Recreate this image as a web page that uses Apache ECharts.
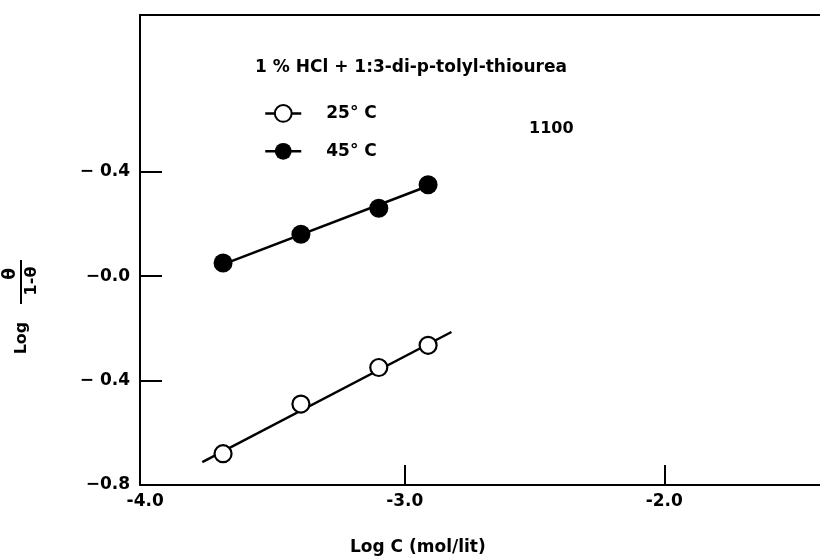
<!DOCTYPE html>
<html>
<head>
<meta charset="utf-8">
<script src="https://cdn.jsdelivr.net/npm/echarts@6/dist/echarts.min.js"></script>
<style>
  html, body { margin: 0; background: #fff; }
  #chart { width: 820px; height: 557px; }
</style>
</head>
<body>
<div id="chart"></div>
<script>
// Log C values of the measured points (shared by both temperatures)
const logC = [-3.70, -3.40, -3.10, -2.91];
// Log theta/(1-theta)
const theta25 = [-0.68, -0.49, -0.35, -0.265];
const theta45 = [0.05, 0.16, 0.26, 0.35];
// drawn straight lines, end points
const fit25 = [[-3.78, -0.712], [-2.82, -0.214]];
const fit45 = [[-3.70, 0.045], [-2.91, 0.345]];

const xTicks = [-4, -3, -2];
const xTickLabels = ['-4.0', '-3.0', '-2.0'];
const yTicks = [-0.8, -0.4, 0, 0.4];
const yTickLabels = ['\u22120.8', '\u2212 0.4', '\u22120.0', '\u2212 0.4'];

const font = 'DejaVu Sans';

function pickLabel(ticks, labels, v) {
  let i = ticks.findIndex(t => Math.abs(t - v) < 1e-6);
  return i < 0 ? '' : labels[i];
}

let chart = echarts.init(document.getElementById('chart'));

let options = {
  backgroundColor: '#fff',
  animation: false,
  grid: { left: 140, right: -6, top: 15, bottom: 72 },
  xAxis: [{
    type: 'value',
    min: -4.02,
    max: -1.40,
    splitLine: { show: false },
    axisLine: { onZero: false, lineStyle: { color: '#000', width: 2 } },
    axisTick: { inside: true, length: 20, customValues: [-3, -2], lineStyle: { color: '#000', width: 2 } },
    axisLabel: {
      customValues: xTicks,
      margin: 8,
      color: '#000',
      fontFamily: font,
      fontWeight: 'bold',
      fontSize: 17,
      formatter: v => pickLabel(xTicks, xTickLabels, v)
    }
  }, {
    // top frame line only
    type: 'value',
    position: 'top',
    min: -4.02,
    max: -1.40,
    splitLine: { show: false },
    axisLine: { onZero: false, lineStyle: { color: '#000', width: 2 } },
    axisTick: { show: false },
    axisLabel: { show: false }
  }],
  yAxis: {
    type: 'value',
    min: -0.8,
    max: 1.0,
    splitLine: { show: false },
    axisLine: { onZero: false, lineStyle: { color: '#000', width: 2 } },
    axisTick: { inside: true, length: 22, customValues: yTicks, lineStyle: { color: '#000', width: 2 } },
    axisLabel: {
      customValues: yTicks,
      margin: 10,
      color: '#000',
      fontFamily: font,
      fontWeight: 'bold',
      fontSize: 17,
      formatter: v => pickLabel(yTicks, yTickLabels, v)
    }
  },
  legend: {
    data: ['25° C', '45° C'],
    orient: 'vertical',
    left: 259,
    top: 99,
    itemWidth: 36,
    itemHeight: 21,
    itemGap: 20,
    selectedMode: false,
    lineStyle: { width: 2.5 },
    textStyle: { color: '#000', fontFamily: font, fontWeight: 'bold', fontSize: 17, padding: [0, 0, 0, 20] }
  },
  series: [
    {
      name: '25° C',
      type: 'line',
      data: fit25,
      symbol: 'emptyCircle',
      symbolSize: 16,
      showSymbol: false,
      silent: true,
      itemStyle: { color: '#000' },
      lineStyle: { color: '#000', width: 2.5 },
      z: 2
    },
    {
      name: '45° C',
      type: 'line',
      data: fit45,
      symbol: 'circle',
      symbolSize: 18,
      showSymbol: false,
      silent: true,
      itemStyle: { color: '#000' },
      lineStyle: { color: '#000', width: 2.5 },
      z: 2
    },
    {
      name: 'pts25',
      type: 'scatter',
      data: logC.map((x, i) => [x, theta25[i]]),
      symbol: 'circle',
      symbolSize: 17,
      itemStyle: { color: '#fff', borderColor: '#000', borderWidth: 2.2, opacity: 1 },
      z: 3
    },
    {
      name: 'pts45',
      type: 'scatter',
      data: logC.map((x, i) => [x, theta45[i]]),
      symbol: 'circle',
      symbolSize: 19,
      itemStyle: { color: '#000', opacity: 1 },
      z: 3
    }
  ],
  graphic: [
    {
      type: 'text', x: 255, y: 68,
      style: { text: '1 % HCl + 1:3-di-p-tolyl-thiourea', fill: '#000', font: 'bold 17px "DejaVu Sans"', verticalAlign: 'middle' }
    },
    {
      type: 'text', x: 529, y: 129,
      style: { text: '1100', fill: '#000', font: 'bold 16px "DejaVu Sans"', verticalAlign: 'middle' }
    },
    {
      type: 'text', x: 350, y: 548,
      style: { text: 'Log C (mol/lit)', fill: '#000', font: 'bold 17px "DejaVu Sans"', verticalAlign: 'middle' }
    },
    {
      type: 'group',
      x: 21,
      y: 282,
      rotation: Math.PI / 2,
      children: [
        {
          type: 'text', x: -56, y: 1,
          style: { text: 'Log', fill: '#000', font: 'bold 16px "DejaVu Sans"', align: 'center', verticalAlign: 'middle' }
        },
        {
          type: 'text', x: 8, y: -10,
          style: { text: 'θ', fill: '#000', font: 'bold 17px "DejaVu Sans"', align: 'center', verticalAlign: 'middle' }
        },
        {
          type: 'line',
          shape: { x1: -22, y1: 0, x2: 22, y2: 0 },
          style: { stroke: '#000', lineWidth: 2 }
        },
        {
          type: 'text', x: 1, y: 11,
          style: { text: '1-θ', fill: '#000', font: 'bold 16px "DejaVu Sans"', align: 'center', verticalAlign: 'middle' }
        }
      ]
    }
  ]
};

chart.setOption(options);

window.addEventListener('resize', function() {
  chart.resize();
});
</script>
</body>
</html>
